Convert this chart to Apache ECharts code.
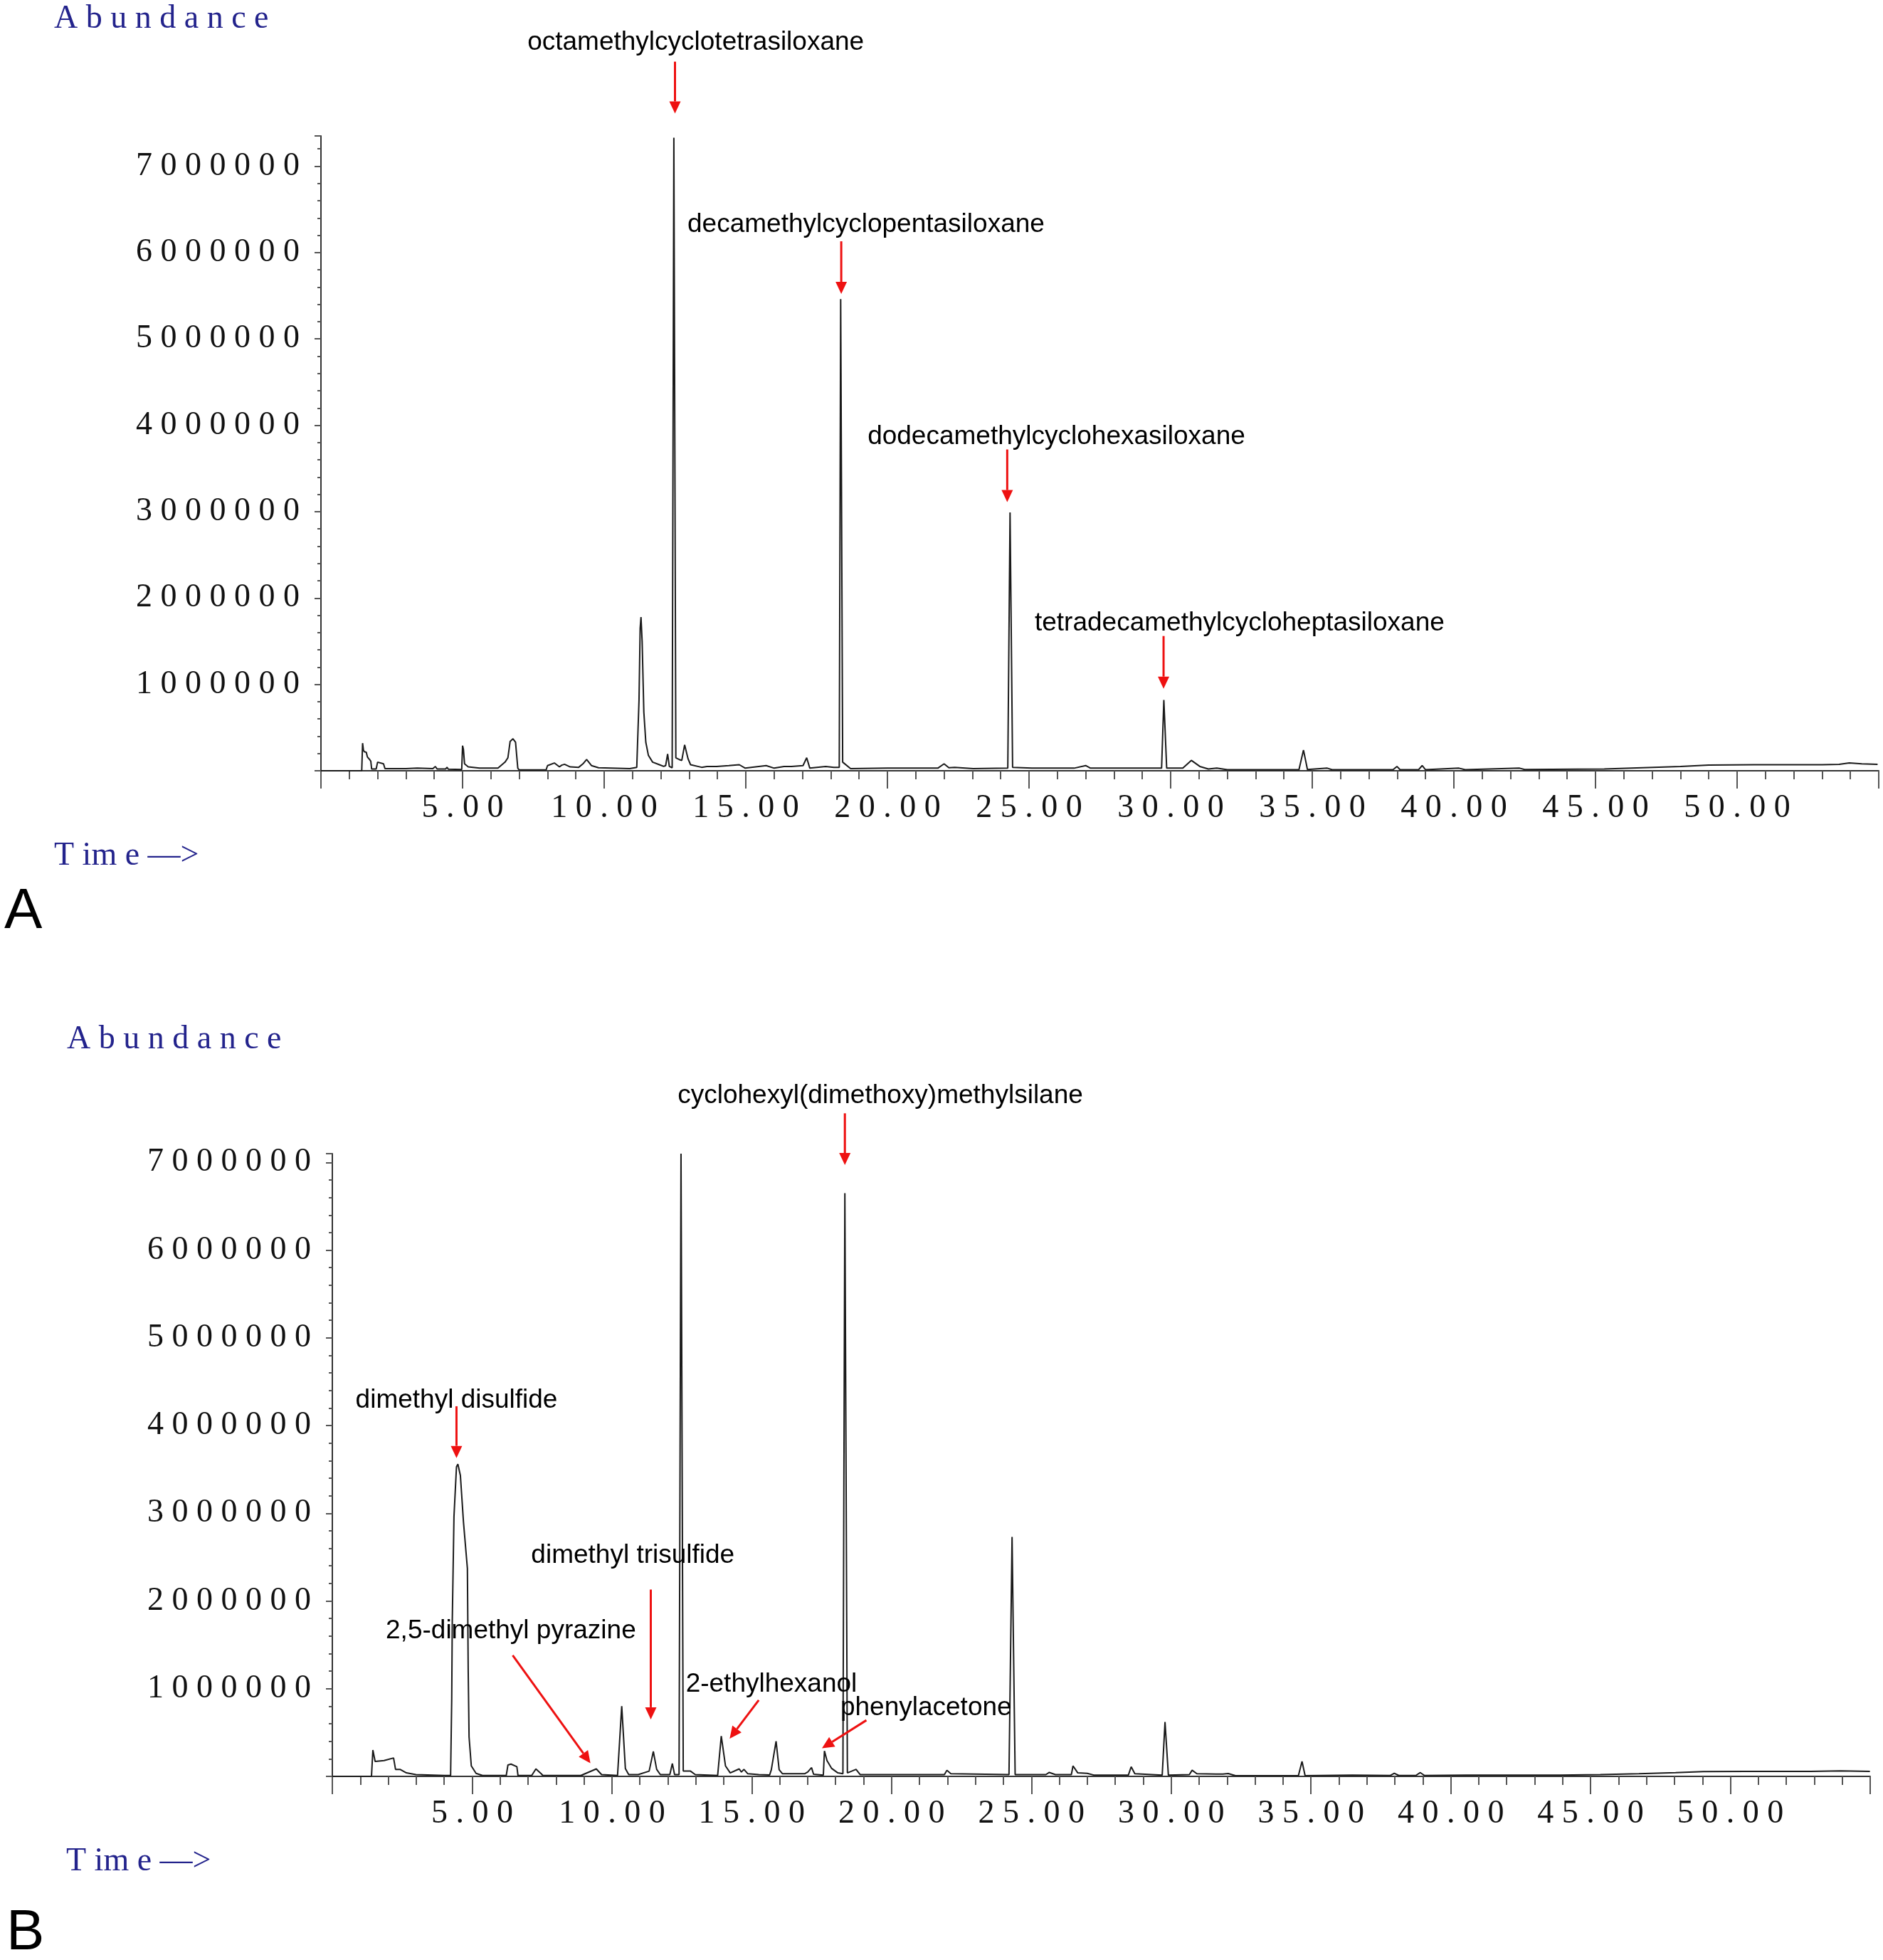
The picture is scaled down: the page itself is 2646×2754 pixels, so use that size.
<!DOCTYPE html>
<html>
<head>
<meta charset="utf-8">
<script src="https://cdn.jsdelivr.net/npm/echarts@6/dist/echarts.min.js"></script>
<style>
  html, body { margin: 0; padding: 0; background: #fff; }
  #main { width: 2646px; height: 2754px; }
</style>
</head>
<body>
<div id="main"></div>
<script>
// retention time (min), abundance -- chromatogram A
var traceA = [
  [0, 0], [1.44, 0], [1.47, 320000], [1.50, 240000], [1.53, 220000], [1.60, 215000], [1.64, 160000],
  [1.72, 130000], [1.76, 110000], [1.79, 20000], [1.95, 20000], [2.00, 100000], [2.05, 85000],
  [2.21, 80000], [2.26, 25000], [3.00, 25000], [3.40, 30000], [3.95, 25000], [4.04, 50000],
  [4.10, 20000], [4.40, 20000], [4.45, 40000], [4.50, 18000], [4.97, 15000], [5.00, 290000],
  [5.03, 250000], [5.07, 80000], [5.20, 45000], [5.60, 30000], [6.25, 30000], [6.50, 100000],
  [6.60, 150000], [6.68, 340000], [6.78, 370000], [6.87, 330000], [6.95, 30000], [7.00, 10000],
  [7.95, 10000], [8.00, 60000], [8.24, 90000], [8.42, 45000], [8.50, 65000], [8.60, 75000],
  [8.80, 45000], [9.10, 40000], [9.25, 80000], [9.38, 130000], [9.55, 60000], [9.80, 35000],
  [10.90, 25000], [11.15, 40000], [11.23, 820000], [11.27, 1650000], [11.30, 1780000],
  [11.34, 1500000], [11.40, 680000], [11.47, 330000], [11.56, 180000], [11.71, 100000],
  [11.95, 70000], [12.10, 50000], [12.17, 60000], [12.24, 195000], [12.30, 50000], [12.40, 35000],
  [12.46, 7330000], [12.53, 150000], [12.65, 130000], [12.74, 120000], [12.84, 300000],
  [12.96, 140000], [13.05, 70000], [13.44, 40000], [13.63, 50000], [13.97, 50000], [14.40, 60000],
  [14.77, 70000], [14.98, 30000], [15.72, 60000], [16.00, 30000], [16.35, 50000], [16.61, 50000],
  [17.02, 60000], [17.15, 150000], [17.26, 30000], [17.82, 50000], [18.11, 40000], [18.30, 40000],
  [18.35, 5460000], [18.42, 100000], [18.70, 25000], [20.00, 30000], [21.78, 30000], [22.00, 80000],
  [22.17, 35000], [22.38, 40000], [23.03, 25000], [24.25, 30000], [24.33, 2990000], [24.42, 40000],
  [25.10, 30000], [26.59, 30000], [27.00, 60000], [27.17, 30000], [29.09, 30000], [29.68, 30000],
  [29.76, 820000], [29.86, 30000], [30.43, 30000], [30.73, 120000], [31.03, 50000], [31.33, 20000],
  [31.63, 30000], [32.00, 12000], [34.53, 12000], [34.69, 240000], [34.83, 15000], [35.53, 30000],
  [35.70, 12000], [37.85, 12000], [37.99, 50000], [38.10, 12000], [38.75, 12000], [38.88, 60000],
  [39.00, 12000], [40.18, 30000], [40.40, 12000], [42.32, 30000], [42.50, 15000], [45.31, 20000],
  [48.00, 50000], [49.00, 65000], [50.60, 70000], [53.00, 70000], [53.60, 75000], [53.96, 90000],
  [54.40, 80000], [54.96, 75000]
];

// retention time (min), abundance -- chromatogram B
var traceB = [
  [0, 0], [1.40, 0], [1.45, 300000], [1.53, 170000], [1.85, 180000], [2.19, 210000], [2.26, 80000],
  [2.42, 80000], [2.65, 40000], [2.99, 20000], [4.01, 10000], [4.23, 10000], [4.27, 890000],
  [4.29, 1780000], [4.35, 2960000], [4.44, 3530000], [4.49, 3560000], [4.58, 3430000],
  [4.69, 2900000], [4.83, 2370000], [4.86, 1190000], [4.89, 450000], [4.97, 120000],
  [5.14, 35000], [5.37, 10000], [6.22, 10000], [6.28, 130000], [6.39, 140000], [6.60, 110000],
  [6.64, 10000], [7.13, 10000], [7.28, 85000], [7.47, 30000], [7.53, 10000], [8.89, 10000],
  [9.44, 85000], [9.63, 20000], [10.20, 10000], [10.35, 800000], [10.48, 90000], [10.60, 20000],
  [10.94, 20000], [11.33, 60000], [11.48, 285000], [11.60, 80000], [11.73, 20000], [12.07, 20000],
  [12.16, 146000], [12.24, 20000], [12.40, 20000], [12.47, 7100000], [12.55, 60000],
  [12.62, 60000], [12.81, 60000], [12.98, 20000], [13.78, 10000], [13.91, 460000], [14.06, 120000],
  [14.23, 40000], [14.55, 85000], [14.63, 50000], [14.72, 80000], [14.86, 30000], [15.25, 20000],
  [15.64, 16000], [15.70, 76000], [15.87, 400000], [15.98, 76000], [16.10, 30000], [16.89, 30000],
  [17.00, 50000], [17.14, 100000], [17.21, 25000], [17.56, 15000], [17.60, 290000], [17.69, 180000],
  [17.86, 90000], [18.08, 40000], [18.26, 30000], [18.33, 6650000], [18.42, 40000], [18.73, 80000],
  [18.88, 20000], [20.01, 20000], [21.89, 20000], [21.98, 70000], [22.12, 30000], [24.20, 20000],
  [24.31, 2730000], [24.42, 20000], [25.52, 20000], [25.64, 45000], [25.86, 20000], [26.43, 20000],
  [26.49, 120000], [26.66, 40000], [27.00, 35000], [27.23, 15000], [28.47, 15000], [28.57, 110000],
  [28.70, 30000], [29.68, 15000], [29.78, 620000], [29.90, 15000], [30.65, 20000], [30.75, 70000],
  [30.92, 30000], [31.61, 27000], [31.85, 27000], [32.04, 32000], [32.30, 8000], [34.55, 8000],
  [34.68, 170000], [34.79, 8000], [36.48, 15000], [37.83, 10000], [37.98, 35000], [38.14, 10000],
  [38.75, 10000], [38.91, 43000], [39.06, 10000], [40.55, 15000], [42.36, 15000], [43.89, 15000],
  [45.35, 20000], [46.73, 30000], [48.04, 43000], [49.03, 54000], [50.57, 57000], [52.87, 57000],
  [53.95, 62000], [54.99, 57000]
];

// peak names: text anchor (left edge, middle) and arrow from -> to, in [time, abundance]
var notesA = [
  { name: 'octamethylcyclotetrasiloxane', text: [7.29, 8430000], from: [12.50, 8210000], to: [12.50, 7610000] },
  { name: 'decamethylcyclopentasiloxane', text: [12.94, 6320000], from: [18.37, 6130000], to: [18.37, 5520000] },
  { name: 'dodecamethylcyclohexasiloxane', text: [19.30, 3870000], from: [24.23, 3720000], to: [24.23, 3110000] },
  { name: 'tetradecamethylcycloheptasiloxane', text: [25.20, 1710000], from: [29.75, 1560000], to: [29.75, 950000] }
];
var notesB = [
  { name: 'cyclohexyl(dimethoxy)methylsilane', text: [12.35, 7760000], from: [18.33, 7560000], to: [18.33, 6970000] },
  { name: 'dimethyl disulfide', text: [0.83, 4290000], from: [4.44, 4220000], to: [4.44, 3630000] },
  { name: 'dimethyl trisulfide', text: [7.11, 2520000], from: [11.39, 2130000], to: [11.39, 650000] },
  { name: '2,5-dimethyl pyrazine', text: [1.91, 1660000], from: [6.45, 1380000], to: [9.23, 150000] },
  { name: '2-ethylhexanol', text: [12.64, 1050000], from: [15.25, 870000], to: [14.21, 430000] },
  { name: 'phenylacetone', text: [18.17, 780000], from: [19.10, 640000], to: [17.51, 320000] }
];

var timeMax = 55;
var abundMaxA = 7350000;
var abundMaxB = 7100000;

var serif = '"Liberation Serif", "DejaVu Serif", serif';
var sans = '"Liberation Sans", Arial, sans-serif';
var blue = '#23238c';

function spaced(s) { return s.split('').join(' '); }

function xAxisOf(idx) {
  return {
    gridIndex: idx,
    type: 'value',
    min: 0,
    max: timeMax,
    interval: 5,
    axisLine: { lineStyle: { color: '#333', width: 2 } },
    axisTick: { length: 25, lineStyle: { color: '#555', width: 2 } },
    minorTick: { show: true, splitNumber: 5, length: 12, lineStyle: { color: '#555', width: 2 } },
    splitLine: { show: false },
    axisLabel: {
      margin: 30,
      fontFamily: serif,
      fontSize: 46,
      color: '#111',
      formatter: function (v) { return (v > 0 && v < timeMax) ? spaced(v.toFixed(2)) : ''; }
    }
  };
}

function yAxisOf(idx, max) {
  return {
    gridIndex: idx,
    type: 'value',
    min: 0,
    max: max,
    interval: 1000000,
    axisLine: { show: true, lineStyle: { color: '#333', width: 2 } },
    axisTick: { show: true, length: 9, lineStyle: { color: '#555', width: 2 } },
    minorTick: { show: true, splitNumber: 5, length: 5, lineStyle: { color: '#555', width: 2 } },
    splitLine: { show: false },
    axisLabel: {
      margin: 30,
      fontFamily: serif,
      fontSize: 46,
      color: '#111',
      formatter: function (v) { return (v > 0 && v % 1000000 === 0) ? spaced(String(v)) : ''; }
    }
  };
}

var myChart = echarts.init(document.getElementById('main'));

var option = {
  animation: false,
  backgroundColor: '#fff',
  grid: [
    { left: 451, right: 6, top: 191, bottom: 1671 },
    { left: 467, right: 18, top: 1621, bottom: 258 }
  ],
  xAxis: [xAxisOf(0), xAxisOf(1)],
  yAxis: [yAxisOf(0, abundMaxA), yAxisOf(1, abundMaxB)],
  series: [
    {
      type: 'line', xAxisIndex: 0, yAxisIndex: 0, data: traceA,
      symbol: 'none', lineStyle: { color: '#1a1a1a', width: 2 }, silent: true
    },
    {
      type: 'line', xAxisIndex: 1, yAxisIndex: 1, data: traceB,
      symbol: 'none', lineStyle: { color: '#1a1a1a', width: 2 }, silent: true
    }
  ]
};
myChart.setOption(option);

// annotations placed through the axes' own scales
var graphics = [];
function addNotes(notes, gridIndex) {
  notes.forEach(function (n) {
    var tp = myChart.convertToPixel({ gridIndex: gridIndex }, n.text);
    var a = myChart.convertToPixel({ gridIndex: gridIndex }, n.from);
    var b = myChart.convertToPixel({ gridIndex: gridIndex }, n.to);
    graphics.push({
      type: 'text', z: 100,
      style: { text: n.name, x: tp[0], y: tp[1], font: '37px ' + sans, fill: '#000',
               textAlign: 'left', textVerticalAlign: 'middle', align: 'left', verticalAlign: 'middle' }
    });
    var ang = Math.atan2(b[1] - a[1], b[0] - a[0]);
    var hl = 17, hw = 8;
    var bx = b[0] - Math.cos(ang) * hl, by = b[1] - Math.sin(ang) * hl;
    graphics.push({
      type: 'line', z: 100,
      shape: { x1: a[0], y1: a[1], x2: bx, y2: by },
      style: { stroke: '#ee1111', lineWidth: 3 }
    });
    graphics.push({
      type: 'polygon', z: 100,
      shape: { points: [
        [b[0], b[1]],
        [bx + Math.sin(ang) * hw, by - Math.cos(ang) * hw],
        [bx - Math.sin(ang) * hw, by + Math.cos(ang) * hw]
      ] },
      style: { fill: '#ee1111' }
    });
  });
}
addNotes(notesA, 0);
addNotes(notesB, 1);

function label(text, x, y, font, color) {
  graphics.push({
    type: 'text', z: 100,
    style: { text: text, x: x, y: y, font: font, fill: color,
             textAlign: 'left', textVerticalAlign: 'middle', align: 'left', verticalAlign: 'middle' }
  });
}
label(spaced('Abundance'), 76, 27, '46px ' + serif, blue);
label('T im e —>', 76, 1203, '46px ' + serif, blue);
label('A', 6, 1282, '80px ' + sans, '#000');
label(spaced('Abundance'), 94, 1461, '46px ' + serif, blue);
label('T im e —>', 93, 2616, '46px ' + serif, blue);
label('B', 9, 2717, '80px ' + sans, '#000');

myChart.setOption({ graphic: graphics });
</script>
</body>
</html>
